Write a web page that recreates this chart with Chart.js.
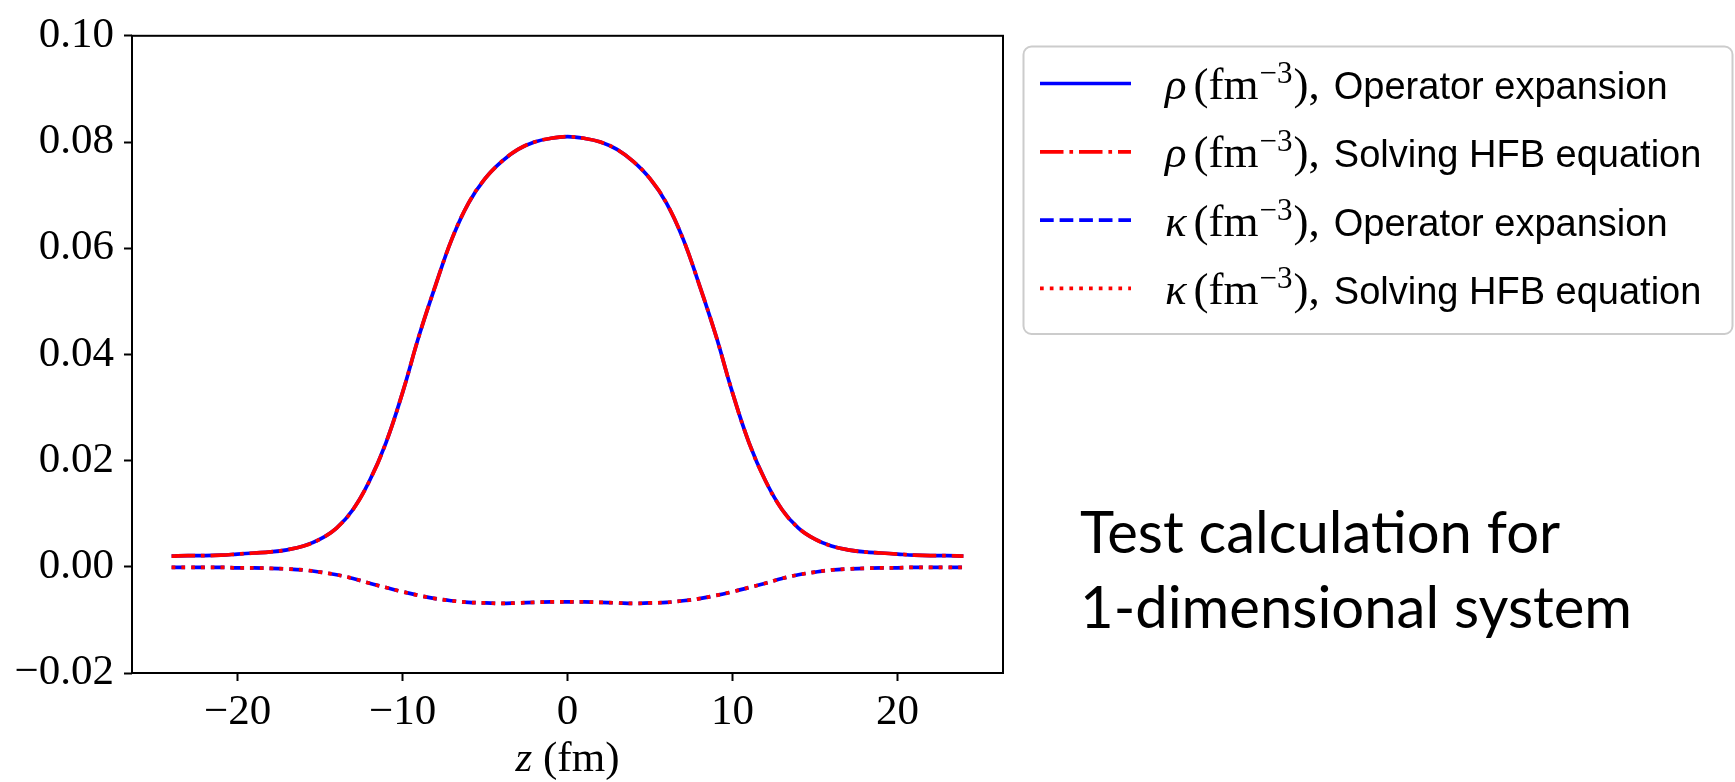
<!DOCTYPE html>
<html>
<head>
<meta charset="utf-8">
<title>Density profiles</title>
<script src="https://cdn.jsdelivr.net/npm/chart.js@4.4.1/dist/chart.umd.min.js"></script>
<style>
  html, body { margin: 0; padding: 0; background: #fff; }
  #wrap { position: relative; width: 1735px; height: 782px; }
</style>
</head>
<body>
<div id="wrap"><canvas id="profile" width="1735" height="782"></canvas></div>
<script>
// grid along z (fm)
const zValues = [
  -24, -23, -22, -21, -20, -19, -18, -17, -16, -15, -14, -13, -12, -11, -10, -9, -8, -7, -6, -5, -4, -3, -2, -1,
  0, 1, 2, 3, 4, 5, 6, 7, 8, 9, 10, 11, 12, 13, 14, 15, 16, 17, 18, 19, 20, 21, 22, 23, 24
];

// normal density rho (fm^-3)
const rhoOperator = [
  0.0020, 0.0021, 0.0021, 0.0022, 0.0024, 0.0026, 0.0028, 0.0032, 0.0039, 0.0052, 0.0073, 0.0108,
  0.0162, 0.0234, 0.0328, 0.0435, 0.0530, 0.0618, 0.0685, 0.0731, 0.0763, 0.0786, 0.0800, 0.0807,
  0.0810,
  0.0807, 0.0800, 0.0786, 0.0763, 0.0731, 0.0685, 0.0618, 0.0530, 0.0435, 0.0328, 0.0234, 0.0162,
  0.0108, 0.0073, 0.0052, 0.0039, 0.0032, 0.0028, 0.0026, 0.0024, 0.0022, 0.0021, 0.0021, 0.0020
];
const rhoHFB = [
  0.0020, 0.0021, 0.0021, 0.0022, 0.0024, 0.0026, 0.0028, 0.0032, 0.0039, 0.0052, 0.0073, 0.0108,
  0.0162, 0.0234, 0.0328, 0.0435, 0.0530, 0.0618, 0.0685, 0.0731, 0.0763, 0.0786, 0.0800, 0.0807,
  0.0810,
  0.0807, 0.0800, 0.0786, 0.0763, 0.0731, 0.0685, 0.0618, 0.0530, 0.0435, 0.0328, 0.0234, 0.0162,
  0.0108, 0.0073, 0.0052, 0.0039, 0.0032, 0.0028, 0.0026, 0.0024, 0.0022, 0.0021, 0.0021, 0.0020
];

// pairing density kappa (fm^-3)
const kappaOperator = [
  -0.0001, -0.0001, -0.0001, -0.0001, -0.0002, -0.0002, -0.0003, -0.0004, -0.0006, -0.0010, -0.0015, -0.0022,
  -0.0031, -0.0039, -0.0047, -0.0054, -0.0060, -0.0064, -0.0067, -0.0068, -0.0069, -0.0068, -0.0067, -0.0066,
  -0.0066,
  -0.0066, -0.0067, -0.0068, -0.0069, -0.0068, -0.0067, -0.0064, -0.0060, -0.0054, -0.0047, -0.0039, -0.0031,
  -0.0022, -0.0015, -0.0010, -0.0006, -0.0004, -0.0003, -0.0002, -0.0002, -0.0001, -0.0001, -0.0001, -0.0001
];
const kappaHFB = [
  -0.0001, -0.0001, -0.0001, -0.0001, -0.0002, -0.0002, -0.0003, -0.0004, -0.0006, -0.0010, -0.0015, -0.0022,
  -0.0031, -0.0039, -0.0047, -0.0054, -0.0060, -0.0064, -0.0067, -0.0068, -0.0069, -0.0068, -0.0067, -0.0066,
  -0.0066,
  -0.0066, -0.0067, -0.0068, -0.0069, -0.0068, -0.0067, -0.0064, -0.0060, -0.0054, -0.0047, -0.0039, -0.0031,
  -0.0022, -0.0015, -0.0010, -0.0006, -0.0004, -0.0003, -0.0002, -0.0002, -0.0001, -0.0001, -0.0001, -0.0001
];

const xTicks = [-20, -10, 0, 10, 20];
const yTicks = [-0.02, 0.00, 0.02, 0.04, 0.06, 0.08, 0.10];

const legendSymbols = ['ρ', 'ρ', 'κ', 'κ'];
const legendTexts = ['Operator expansion', 'Solving HFB equation', 'Operator expansion', 'Solving HFB equation'];
const noteLines = ['Test calculation for', '1-dimensional system'];

const SERIF = '"Liberation Serif", "DejaVu Serif", serif';
const SANS = '"Liberation Sans", Arial, sans-serif';
const LW = 3.7;

function toPoints(ys) {
  return zValues.map((z, i) => ({ x: z, y: ys[i] }));
}
function minusSign(s) {
  return s.replace('-', '\u2212');
}

// closed frame, legend box, axis title and side note
const decorPlugin = {
  id: 'decor',
  afterDraw(chart) {
    const ctx = chart.ctx;
    const a = chart.chartArea;
    ctx.save();
    ctx.strokeStyle = '#000';
    ctx.lineWidth = 2;
    ctx.strokeRect(a.left, a.top, a.right - a.left, a.bottom - a.top);

    // x axis title: z (fm)
    ctx.fillStyle = '#000';
    ctx.textBaseline = 'alphabetic';
    ctx.font = 'italic 43px ' + SERIF;
    const wz = ctx.measureText('z').width;
    ctx.font = '43px ' + SERIF;
    const wf = ctx.measureText(' (fm)').width;
    let tx = (a.left + a.right) / 2 - (wz + wf) / 2;
    ctx.font = 'italic 43px ' + SERIF;
    ctx.fillText('z', tx, 771);
    ctx.font = '43px ' + SERIF;
    ctx.fillText(' (fm)', tx + wz, 771);

    // legend frame
    ctx.beginPath();
    ctx.roundRect(1023.5, 46.5, 709, 287.5, 8);
    ctx.fillStyle = 'rgba(255,255,255,0.8)';
    ctx.fill();
    ctx.strokeStyle = '#cccccc';
    ctx.lineWidth = 2;
    ctx.stroke();

    chart.data.datasets.forEach((ds, i) => {
      const cy = 83.5 + i * 68.3;
      ctx.save();
      ctx.strokeStyle = ds.borderColor;
      ctx.lineWidth = ds.borderWidth;
      ctx.lineCap = 'butt';
      ctx.setLineDash(ds.borderDash || []);
      ctx.beginPath();
      ctx.moveTo(1040, cy);
      ctx.lineTo(1131, cy);
      ctx.stroke();
      ctx.restore();

      const base = cy + 15.5;
      let x = 1165;
      ctx.fillStyle = '#000';
      ctx.font = 'italic 45px ' + SERIF;
      ctx.fillText(legendSymbols[i], x, base);
      x += ctx.measureText(legendSymbols[i]).width + 7;
      ctx.font = '45px ' + SERIF;
      ctx.fillText('(fm', x, base);
      x += ctx.measureText('(fm').width + 1;
      ctx.font = '31px ' + SERIF;
      ctx.fillText('\u22123', x, base - 16);
      x += ctx.measureText('\u22123').width + 1;
      ctx.font = '45px ' + SERIF;
      ctx.fillText('),', x, base);
      x += ctx.measureText('),').width + 14;
      ctx.font = '38px ' + SANS;
      ctx.fillText(legendTexts[i], x, base);
    });

    // side note
    ctx.font = '58px Lato, ' + SANS;
    ctx.fillStyle = '#000';
    ctx.fillText(noteLines[0], 1080, 553);
    ctx.fillText(noteLines[1], 1080, 628);
    ctx.restore();
  }
};

const lineBase = {
  showLine: true,
  pointRadius: 0,
  borderWidth: LW,
  borderCapStyle: 'butt',
  fill: false,
  tension: 0.4
};

new Chart(document.getElementById('profile'), {
  type: 'scatter',
  data: {
    datasets: [
      { ...lineBase, label: 'rho operator', data: toPoints(rhoOperator), borderColor: '#0000ff', borderDash: [], order: 4 },
      { ...lineBase, label: 'rho HFB', data: toPoints(rhoHFB), borderColor: '#ff0000', borderDash: [23.5, 5.9, 3.7, 5.9], order: 3 },
      { ...lineBase, label: 'kappa operator', data: toPoints(kappaOperator), borderColor: '#0000ff', borderDash: [13.7, 5.9], order: 2 },
      { ...lineBase, label: 'kappa HFB', data: toPoints(kappaHFB), borderColor: '#ff0000', borderDash: [3.7, 6.1], order: 1 }
    ]
  },
  options: {
    responsive: false,
    animation: false,
    devicePixelRatio: 1,
    layout: { padding: { top: 25, right: 732, left: 0, bottom: 0 } },
    plugins: { legend: { display: false }, tooltip: { enabled: false } },
    scales: {
      x: {
        type: 'linear',
        min: -26.4,
        max: 26.4,
        afterBuildTicks: s => { s.ticks = xTicks.map(v => ({ value: v })); },
        afterFit: s => { s.height = 109; },
        border: { display: false },
        grid: { drawOnChartArea: false, drawTicks: true, tickLength: 8, tickWidth: 2, tickColor: '#000' },
        ticks: {
          color: '#000',
          padding: 6,
          maxRotation: 0,
          font: { family: SERIF, size: 43, lineHeight: 1.2 },
          callback: v => minusSign(String(v))
        }
      },
      y: {
        min: -0.02,
        max: 0.10,
        afterBuildTicks: s => { s.ticks = yTicks.map(v => ({ value: v })); },
        afterFit: s => { s.width = 132; },
        border: { display: false },
        grid: { drawOnChartArea: false, drawTicks: true, tickLength: 8, tickWidth: 2, tickColor: '#000' },
        ticks: {
          color: '#000',
          padding: 10,
          font: { family: SERIF, size: 43, lineHeight: 1.2 },
          callback: v => minusSign(v.toFixed(2))
        }
      }
    }
  },
  plugins: [decorPlugin]
});
</script>
</body>
</html>
